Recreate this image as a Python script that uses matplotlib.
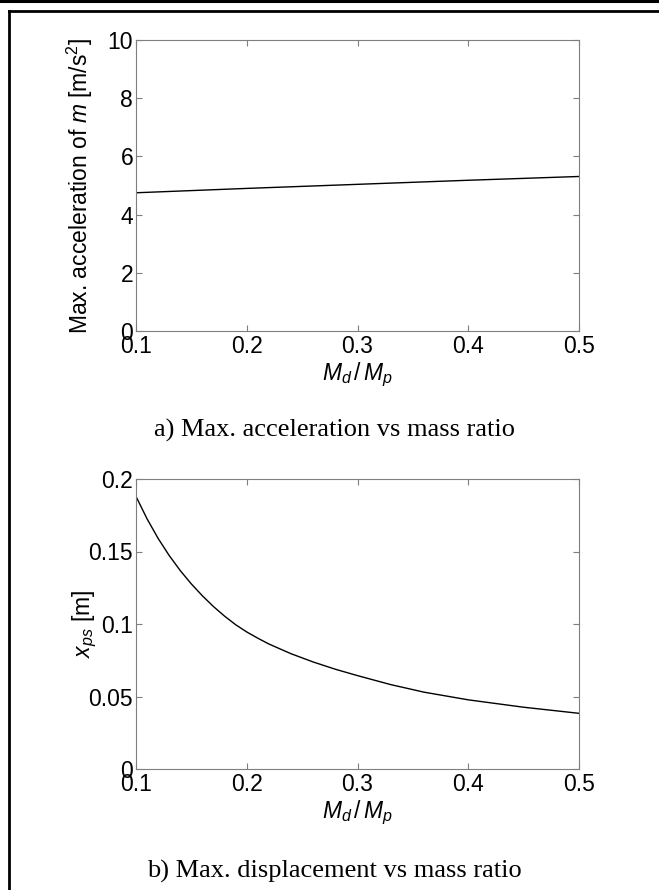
import matplotlib
matplotlib.use('Agg')
import matplotlib.pyplot as plt
from matplotlib.lines import Line2D

# values
ratio_a = [0.10, 0.20, 0.30, 0.40, 0.50]
accel = [4.75, 4.90, 5.04, 5.18, 5.31]

ratio_b = [0.10, 0.11, 0.12, 0.13, 0.14, 0.15, 0.16, 0.17, 0.18, 0.19, 0.20, 0.21,
           0.22, 0.24, 0.26, 0.28, 0.30, 0.33, 0.36, 0.40, 0.45, 0.50]
disp = [0.188, 0.1725, 0.159, 0.1472, 0.1368, 0.1276, 0.1194, 0.1120, 0.1054, 0.0995, 0.0945, 0.0902,
        0.0862, 0.0795, 0.0738, 0.0688, 0.0644, 0.0582, 0.0530, 0.0477, 0.0426, 0.0384]

x_ticks = [0.1, 0.2, 0.3, 0.4, 0.5]
x_ticklabels = ['0.1', '0.2', '0.3', '0.4', '0.5']
ya_ticks = [0, 2, 4, 6, 8, 10]
yb_ticks = [0, 0.05, 0.1, 0.15, 0.2]
yb_ticklabels = ['0', '0.05', '0.1', '0.15', '0.2']

plt.rcParams['font.family'] = 'Liberation Sans'
plt.rcParams['mathtext.fontset'] = 'custom'
plt.rcParams['mathtext.rm'] = 'Liberation Sans'
plt.rcParams['mathtext.it'] = 'Liberation Sans:italic'

W, H = 659, 890
fig = plt.figure(figsize=(W / 100, H / 100), dpi=100)
fig.patch.set_facecolor('white')


def box(left, top, right, bottom):
    return [left / W, 1 - bottom / H, (right - left) / W, (bottom - top) / H]


def style_axes(ax):
    for s in ax.spines.values():
        s.set_color('#7f7f7f')
        s.set_linewidth(0.8)
    ax.tick_params(direction='in', length=4, width=0.8, color='#7f7f7f',
                   top=True, right=True, labelsize=16.5, labelcolor='black')
    ax.tick_params(axis='x', pad=3)
    ax.tick_params(axis='y', pad=2)
    ax.set_xlim(0.1, 0.5)
    ax.set_xticks(x_ticks)
    ax.set_xticklabels(x_ticklabels)
    ax.set_xlabel(r'$M_d\,/\,M_p$', fontsize=16.5, labelpad=2)


ax1 = fig.add_axes(box(136, 40, 579, 331))
ax1.plot(ratio_a, accel, color='black', lw=1.0)
style_axes(ax1)
ax1.set_ylim(0, 10)
ax1.set_yticks(ya_ticks)
ax1.set_ylabel('Max. acceleration of $m$ [m/s$^2$]', fontsize=16.5)
ax1.yaxis.set_label_coords(-0.092, 0.5)

ax2 = fig.add_axes(box(136, 479, 579, 769))
ax2.plot(ratio_b, disp, color='black', lw=1.0)
style_axes(ax2)
ax2.set_ylim(0, 0.2)
ax2.set_yticks(yb_ticks)
ax2.set_yticklabels(yb_ticklabels)
ax2.set_ylabel(r'$x_{ps}$ [m]', fontsize=16.5)
ax2.yaxis.set_label_coords(-0.084, 0.5)

fig.text(334 / W, 1 - 430 / H, 'a) Max. acceleration vs mass ratio',
         family='Liberation Serif', fontsize=19, ha='center', va='center')
fig.text(334 / W, 1 - 871 / H, 'b) Max. displacement vs mass ratio',
         family='Liberation Serif', fontsize=19, ha='center', va='center')

# page frame lines
fig.add_artist(Line2D([0, 1], [1 - 1.2 / H] * 2, color='black', lw=2.2,
                      transform=fig.transFigure))
fig.add_artist(Line2D([8.5 / W, 1], [1 - 10.5 / H] * 2, color='black', lw=2.0,
                      transform=fig.transFigure))
fig.add_artist(Line2D([8.5 / W] * 2, [0, 1 - 10.5 / H], color='black', lw=2.0,
                      transform=fig.transFigure))

fig.savefig('out.png', dpi=100)
